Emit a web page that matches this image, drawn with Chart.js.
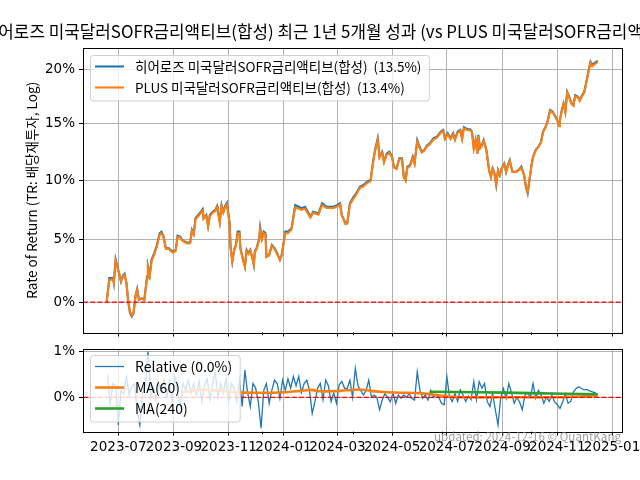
<!DOCTYPE html>
<html><head><meta charset="utf-8">
<script src="https://cdn.jsdelivr.net/npm/chart.js@4.4.1/dist/chart.umd.min.js"></script>
<style>
html,body{margin:0;padding:0;background:#fff;width:640px;height:480px;overflow:hidden}
canvas{position:absolute;left:0}
#c1{top:0}
#c2{top:340px}
</style></head><body>
<canvas id="c1" width="640" height="340"></canvas>
<canvas id="c2" width="640" height="140"></canvas>
<script>
// ---------------- DATA ----------------
const titleText = '히어로즈 미국달러SOFR금리액티브(합성) 최근 1년 5개월 성과 (vs PLUS 미국달러SOFR금리액티브(합성))';
const yTitle = 'Rate of Return (TR: 배당재투자, Log)';
const heroLabel = '히어로즈 미국달러SOFR금리액티브(합성)  (13.5%)';
const plusLabel = 'PLUS 미국달러SOFR금리액티브(합성)  (13.4%)';
const footerText = 'updated: 2024-12-16 © QuantKang';

const tickLabels = ['2023-07','2023-09','2023-11','2024-01','2024-03','2024-05','2024-07','2024-09','2024-11','2025-01'];
const minorTickDates = ['2023-12-08','2024-03-18','2024-06-26','2024-10-03'];
const topYTicks = [0, 5, 10, 15, 20];
const relYTicks = [0, 1];

const dates = ['2023-06-18','2023-06-21','2023-06-25','2023-06-26','2023-06-28','2023-07-01','2023-07-04','2023-07-06','2023-07-08','2023-07-10',
'2023-07-12','2023-07-14','2023-07-16','2023-07-18','2023-07-20','2023-07-22','2023-07-24','2023-07-27','2023-07-30','2023-08-02',
'2023-08-03','2023-08-05','2023-08-07','2023-08-10','2023-08-13','2023-08-16','2023-08-18','2023-08-20','2023-08-23','2023-08-26',
'2023-08-28','2023-08-31','2023-09-03','2023-09-05','2023-09-08','2023-09-10','2023-09-13','2023-09-16','2023-09-19','2023-09-21',
'2023-09-23','2023-09-25','2023-09-28','2023-10-01','2023-10-03','2023-10-04','2023-10-07','2023-10-09','2023-10-11','2023-10-14',
'2023-10-17','2023-10-19','2023-10-20','2023-10-22','2023-10-24','2023-10-26','2023-10-28','2023-10-30','2023-11-02','2023-11-03',
'2023-11-05','2023-11-07','2023-11-09','2023-11-11','2023-11-13','2023-11-14','2023-11-17','2023-11-19','2023-11-21','2023-11-23',
'2023-11-25','2023-11-27','2023-11-29','2023-11-30','2023-12-02','2023-12-05','2023-12-06','2023-12-08','2023-12-10','2023-12-12',
'2023-12-13','2023-12-16','2023-12-19','2023-12-22','2023-12-25','2023-12-28','2023-12-30','2024-01-03','2024-01-06','2024-01-10',
'2024-01-14','2024-01-18','2024-01-21','2024-01-25','2024-01-31','2024-02-03','2024-02-09','2024-02-13','2024-02-18','2024-02-22',
'2024-02-26','2024-03-01','2024-03-04','2024-03-06','2024-03-10','2024-03-12','2024-03-15','2024-03-19','2024-03-22','2024-03-26',
'2024-03-30','2024-04-03','2024-04-07','2024-04-10','2024-04-12','2024-04-15','2024-04-17','2024-04-20','2024-04-22','2024-04-25',
'2024-04-28','2024-05-01','2024-05-03','2024-05-06','2024-05-09','2024-05-12','2024-05-14','2024-05-16','2024-05-18','2024-05-21',
'2024-05-24','2024-05-26','2024-05-29','2024-05-31','2024-06-03','2024-06-06','2024-06-09','2024-06-12','2024-06-16','2024-06-20',
'2024-06-24','2024-06-27','2024-06-29','2024-07-02','2024-07-05','2024-07-08','2024-07-10','2024-07-13','2024-07-16','2024-07-18',
'2024-07-20','2024-07-24','2024-07-27','2024-07-29','2024-07-31','2024-08-02','2024-08-04','2024-08-05','2024-08-07','2024-08-09',
'2024-08-11','2024-08-14','2024-08-17','2024-08-19','2024-08-21','2024-08-23','2024-08-25','2024-08-27','2024-08-29','2024-08-31',
'2024-09-03','2024-09-05','2024-09-07','2024-09-09','2024-09-12','2024-09-16','2024-09-19','2024-09-22','2024-09-25','2024-09-27',
'2024-09-29','2024-10-01','2024-10-03','2024-10-05','2024-10-08','2024-10-11','2024-10-14','2024-10-16','2024-10-19','2024-10-21',
'2024-10-24','2024-10-27','2024-10-29','2024-11-01','2024-11-03','2024-11-04','2024-11-06','2024-11-08','2024-11-10','2024-11-12',
'2024-11-15','2024-11-17','2024-11-19','2024-11-21','2024-11-24','2024-11-26','2024-11-28','2024-12-01','2024-12-03','2024-12-06',
'2024-12-08','2024-12-10','2024-12-12','2024-12-16'];

const heroes = [0.00,1.90,1.90,1.50,3.42,2.56,1.62,2.08,2.24,1.50,
0.05,-0.86,-1.12,-0.86,0.44,1.05,0.18,0.31,0.18,2.02,
2.83,2.16,3.37,3.91,4.58,5.55,5.68,5.40,4.32,4.32,
4.18,4.04,4.18,5.35,5.26,5.00,4.86,4.77,4.77,5.82,
5.49,6.79,7.07,7.34,7.55,6.79,7.07,6.15,7.07,7.34,
7.49,7.82,7.34,6.51,7.91,7.34,7.82,8.10,6.38,4.45,
3.23,4.18,4.58,5.68,5.68,4.32,3.37,2.83,4.18,3.91,
4.18,3.63,2.96,4.04,4.32,5.14,6.04,5.14,5.68,5.55,
3.63,3.77,4.58,4.32,3.90,3.37,3.77,5.68,5.68,5.96,
7.91,7.76,7.63,7.76,6.93,7.34,7.21,8.05,7.76,7.76,
7.76,7.91,8.05,7.07,6.38,6.38,8.05,8.61,8.90,9.46,
9.61,9.89,10.04,11.77,12.68,13.69,12.07,12.50,11.63,12.36,
12.50,12.07,11.19,11.05,11.93,11.93,10.33,10.04,11.19,11.34,
12.07,11.51,13.54,13.09,12.50,12.68,13.09,13.25,13.69,13.84,
14.28,14.44,13.69,14.14,13.69,14.14,13.60,14.28,14.44,13.69,
14.69,14.51,14.51,14.28,12.83,13.54,12.36,13.99,12.83,13.09,
13.54,12.68,10.91,10.33,11.05,10.62,9.61,10.91,10.48,11.05,
11.48,10.76,11.34,11.77,10.76,10.76,10.91,11.19,10.48,9.46,
8.90,10.04,11.19,12.07,12.68,12.95,13.40,14.28,14.74,15.19,
16.24,16.08,15.78,15.34,14.80,15.34,16.24,16.84,16.08,17.91,
17.30,16.84,16.68,17.60,17.45,17.14,17.51,17.91,18.69,19.94,
20.72,20.41,20.57,20.81];

const plus = [0.00,1.75,1.80,1.55,3.30,2.50,1.65,2.00,2.15,1.55,
0.15,-0.75,-1.05,-0.80,0.40,0.95,0.20,0.25,0.20,1.90,
2.70,2.10,3.25,3.80,4.45,5.40,5.55,5.30,4.25,4.30,
4.10,3.95,4.10,5.25,5.20,4.95,4.80,4.70,4.72,5.70,
5.45,6.70,6.95,7.25,7.45,6.75,7.00,6.10,6.95,7.25,
7.40,7.72,7.30,6.45,7.80,7.28,7.72,7.95,6.30,4.40,
3.25,4.10,4.50,5.55,5.55,4.25,3.35,2.80,4.10,3.85,
4.10,3.60,2.95,3.95,4.22,5.00,5.85,5.05,5.55,5.45,
3.60,3.72,4.50,4.25,3.85,3.35,3.70,5.55,5.55,5.85,
7.70,7.60,7.50,7.60,6.85,7.25,7.10,7.90,7.65,7.65,
7.65,7.80,7.95,7.00,6.30,6.35,7.95,8.45,8.78,9.35,
9.50,9.78,9.95,11.60,12.55,13.55,12.00,12.40,11.58,12.25,
12.40,12.00,11.12,11.00,11.85,11.85,10.30,10.00,11.10,11.25,
11.95,11.45,13.40,12.98,12.42,12.60,13.00,13.15,13.58,13.75,
14.18,14.35,13.62,14.05,13.62,14.05,13.55,14.18,14.35,13.62,
14.58,14.42,14.42,14.20,12.78,13.45,12.32,13.90,12.80,13.02,
13.45,12.62,10.88,10.30,11.00,10.60,9.65,10.85,10.45,11.00,
11.42,10.72,11.28,11.70,10.74,10.74,10.88,11.10,10.45,9.50,
9.00,10.02,11.15,12.02,12.62,12.90,13.35,14.20,14.68,15.12,
16.16,16.02,15.72,15.30,14.78,15.30,16.18,16.76,16.02,17.82,
17.22,16.78,16.62,17.52,17.38,17.08,17.42,17.82,18.60,19.85,
20.62,20.30,20.46,20.68];

// Relative series: one reading every 3 calendar days from relStart
const relStart = '2023-06-19';
const relStepDays = 3;
const relative = [0.50,-0.15,0.30,0.25,-0.60,0.15,0.08,0.45,0.05,0.23,
0.30,-0.31,-0.60,0.10,0.23,0.99,0.00,0.23,-0.05,0.30,
0.10,0.37,0.00,0.35,-0.10,0.45,0.10,-0.20,0.30,0.15,
0.37,0.10,0.30,0.05,0.35,-0.10,0.25,0.40,-0.05,0.30,
0.55,0.00,0.30,0.10,0.40,-0.10,0.30,0.20,-0.10,0.37,
-0.20,0.59,0.10,-0.20,0.30,0.20,-0.10,-0.67,0.15,0.30,
-0.13,0.15,0.37,0.30,-0.02,0.37,0.15,0.40,0.20,0.45,
0.25,0.45,0.10,0.30,0.37,0.15,-0.35,-0.10,0.20,0.30,
-0.05,0.37,0.25,-0.09,0.09,-0.13,0.27,0.34,0.20,0.19,
0.37,0.00,0.63,0.25,0.15,0.05,0.15,0.37,0.00,0.05,
0.00,-0.27,-0.05,0.08,0.00,-0.10,0.10,-0.13,0.05,-0.02,
0.05,0.00,0.08,-0.02,-0.06,0.55,0.15,-0.02,0.05,-0.06,
0.15,0.00,0.05,0.00,-0.13,-0.16,0.45,0.00,-0.09,0.08,
-0.09,0.16,0.05,-0.09,0.03,-0.05,0.34,-0.05,0.34,0.20,
0.30,-0.09,-0.20,0.08,-0.27,-0.60,0.00,0.19,-0.02,0.30,
0.10,-0.13,0.00,-0.10,-0.27,0.05,0.10,0.00,0.30,-0.02,
0.15,0.05,-0.13,0.00,-0.09,0.05,-0.10,-0.16,-0.24,-0.10,
0.08,-0.13,-0.09,0.12,0.19,0.23,0.19,0.16,0.17,0.14,
0.12,0.10,0.05];

const ma60Dates = ['2023-09-11','2023-09-30','2023-10-19','2023-11-06','2023-11-25','2023-12-14','2024-01-01','2024-01-20','2024-01-31','2024-02-11',
'2024-02-22','2024-03-04','2024-03-18','2024-03-26','2024-04-07','2024-04-18','2024-04-26','2024-05-10','2024-06-01','2024-06-20',
'2024-07-08','2024-07-27','2024-08-29','2024-10-02','2024-10-24','2024-11-15','2024-12-02','2024-12-16'];
const ma60 = [0.11,0.16,0.15,0.11,0.10,0.10,0.11,0.14,0.16,0.13,
0.13,0.14,0.16,0.17,0.14,0.12,0.11,0.10,0.09,0.05,
0.01,0.00,0.00,0.00,0.00,0.01,0.02,0.04];

const ma240Dates = ['2024-06-12','2024-08-07','2024-10-02','2024-12-16'];
const ma240 = [0.12,0.11,0.09,0.065];

// ---------------- SETUP ----------------
const FONT = '"Noto Sans CJK KR", "Noto Sans", sans-serif';
const TICKFONT = '"DejaVu Sans", sans-serif';
Chart.defaults.font.family = FONT;
Chart.defaults.color = '#000';
const DAY = 86400000;
const ts = s => Date.parse(s);
const X_MIN = ts('2023-07-01') - 39.35 * DAY;
const X_MAX = ts('2025-01-01') + 11.1 * DAY;
const TOP_Y_MIN = -2.35, TOP_Y_MAX = 22.03;   // percent
const REL_Y_MIN = -0.745, REL_Y_MAX = 1.04;    // percent
const C_BLUE = '#1f77b4', C_ORANGE = '#ff7f0e', C_GREEN = '#2ca02c';

const gridOpts = { color: '#b0b0b0', lineWidth: 1, tickColor: '#000', tickLength: 4 };

function xAxis(showLabels, height) {
  return {
    type: 'linear', min: X_MIN, max: X_MAX,
    afterBuildTicks: s => { s.ticks = tickLabels.map(l => ({ value: ts(l + '-01') })); },
    afterFit: s => { s.height = height; s.paddingLeft = 0; s.paddingRight = 0; },
    ticks: { display: showLabels, autoSkip: false, maxRotation: 0, minRotation: 0, padding: 4,
             color: '#000', font: { family: TICKFONT, size: 13.5 }, callback: (v, i) => tickLabels[i] },
    grid: gridOpts, border: { display: false }
  };
}

function legendAndFrame(id) {
  return {
    id,
    afterDatasetsDraw(chart, args, o) {
      const { ctx, chartArea: a } = chart;
      const items = chart.data.datasets.filter(d => d.legendText);
      ctx.save();
      ctx.font = o.legendFont;
      const bx = Math.round(a.left + 7) + 0.5, by = Math.round(a.top + o.legendDY) + 0.5;
      const textX = bx + 44.5;
      const maxW = Math.max(...items.map(d => ctx.measureText(d.legendText).width));
      const bw = textX - bx + maxW + 8;
      const bh = 24.5 + (items.length - 1) * 21;
      ctx.beginPath(); ctx.roundRect(bx, by, bw, bh, 3);
      ctx.fillStyle = 'rgba(255,255,255,0.8)'; ctx.fill();
      ctx.strokeStyle = 'rgba(204,204,204,0.9)'; ctx.lineWidth = 1; ctx.stroke();
      items.forEach((d, k) => {
        const yy = by + 11 + 21 * k;
        ctx.beginPath(); ctx.moveTo(bx + 4.5, yy); ctx.lineTo(bx + 33.5, yy);
        ctx.strokeStyle = d.borderColor; ctx.lineWidth = d.borderWidth; ctx.stroke();
        ctx.fillStyle = '#000'; ctx.textBaseline = 'middle'; ctx.textAlign = 'left';
        ctx.fillText(d.legendText, textX, yy + 0.5);
      });
      ctx.restore();
    },
    afterDraw(chart, args, o) {
      const { ctx, chartArea: a, scales } = chart;
      ctx.save();
      ctx.strokeStyle = '#000'; ctx.lineWidth = 1;
      minorTickDates.forEach(d => {
        const px = Math.round(scales.x.getPixelForValue(ts(d))) + 0.5;
        ctx.beginPath(); ctx.moveTo(px, a.bottom); ctx.lineTo(px, a.bottom + 2.5); ctx.stroke();
      });
      const l = Math.round(a.left) + 0.5, t = Math.round(a.top) + 0.5;
      ctx.strokeRect(l, t, Math.round(a.right) - Math.round(a.left), Math.round(a.bottom) - Math.round(a.top));
      if (o.title) {
        ctx.font = o.titleFont; ctx.fillStyle = '#000';
        ctx.textAlign = 'center'; ctx.textBaseline = 'alphabetic';
        ctx.fillText(o.title, (a.left + a.right) / 2, o.titleY);
      }
      if (o.footer) {
        ctx.font = o.footerFont; ctx.fillStyle = 'rgba(128,128,128,0.75)';
        ctx.textAlign = 'right'; ctx.textBaseline = 'middle';
        ctx.fillText(o.footer, a.right - 1, o.footerY);
      }
      ctx.restore();
    }
  };
}

// ---------------- TOP CHART ----------------
new Chart(document.getElementById('c1'), {
  type: 'line',
  data: {
    datasets: [
      { data: [{ x: X_MIN, y: 1 }, { x: X_MAX, y: 1 }], borderColor: '#ff0000', borderWidth: 1.3,
        borderDash: [5, 2.2], pointRadius: 0, order: 0 },
      { legendText: heroLabel, data: dates.map((d, i) => ({ x: ts(d), y: 1 + heroes[i] / 100 })),
        borderColor: C_BLUE, borderWidth: 2.1, pointRadius: 0, tension: 0, order: 2 },
      { legendText: plusLabel, data: dates.map((d, i) => ({ x: ts(d), y: 1 + plus[i] / 100 })),
        borderColor: C_ORANGE, borderWidth: 2.1, pointRadius: 0, tension: 0, order: 1 }
    ]
  },
  options: {
    responsive: false, animation: false, devicePixelRatio: 1,
    layout: { padding: { top: 48, right: 18, bottom: 0, left: 0 } },
    plugins: {
      legend: { display: false }, tooltip: { enabled: false },
      deco1: { legendFont: '13.5px ' + FONT, legendDY: 7, title: titleText, titleFont: '16.9px ' + FONT, titleY: 38 }
    },
    scales: {
      x: xAxis(false, 7.5),
      y: {
        type: 'logarithmic', min: 1 + TOP_Y_MIN / 100, max: 1 + TOP_Y_MAX / 100,
        afterBuildTicks: s => { s.ticks = topYTicks.map(v => ({ value: 1 + v / 100 })); },
        afterFit: s => { s.width = 83; s.paddingTop = 0; s.paddingBottom = 0; },
        ticks: { color: '#000', font: { family: TICKFONT, size: 13.5 }, padding: 4,
                 callback: v => Math.round((v - 1) * 100) + '%' },
        grid: gridOpts, border: { display: false },
        title: { display: true, text: yTitle, color: '#000', font: { size: 13.5 }, padding: { top: 24, bottom: 0 } }
      }
    }
  },
  plugins: [legendAndFrame('deco1')]
});

// ---------------- BOTTOM CHART ----------------
new Chart(document.getElementById('c2'), {
  type: 'line',
  data: {
    datasets: [
      { data: [{ x: X_MIN, y: 0 }, { x: X_MAX, y: 0 }], borderColor: '#ff0000', borderWidth: 1.3,
        borderDash: [5, 2.2], pointRadius: 0, order: 0 },
      { legendText: 'Relative (0.0%)',
        data: relative.map((v, i) => ({ x: ts(relStart) + i * relStepDays * DAY, y: v })),
        borderColor: C_BLUE, borderWidth: 1.3, pointRadius: 0, tension: 0, order: 3 },
      { legendText: 'MA(60)', data: ma60Dates.map((d, i) => ({ x: ts(d), y: ma60[i] })),
        borderColor: C_ORANGE, borderWidth: 2.6, pointRadius: 0, tension: 0.3, order: 2 },
      { legendText: 'MA(240)', data: ma240Dates.map((d, i) => ({ x: ts(d), y: ma240[i] })),
        borderColor: C_GREEN, borderWidth: 2.6, pointRadius: 0, tension: 0.3, order: 1 }
    ]
  },
  options: {
    responsive: false, animation: false, devicePixelRatio: 1,
    layout: { padding: { top: 9.3, right: 18, bottom: 0, left: 0 } },
    plugins: {
      legend: { display: false }, tooltip: { enabled: false },
      deco2: { legendFont: '14px ' + FONT, legendDY: 5.7, footer: footerText, footerFont: '11.6px ' + FONT, footerY: 96.7 }
    },
    scales: {
      x: xAxis(true, 48.3),
      y: {
        type: 'linear', min: REL_Y_MIN, max: REL_Y_MAX,
        afterBuildTicks: s => { s.ticks = relYTicks.map(v => ({ value: v })); },
        afterFit: s => { s.width = 83; s.paddingTop = 0; s.paddingBottom = 0; },
        ticks: { color: '#000', font: { family: TICKFONT, size: 13.5 }, padding: 4, callback: v => v + '%' },
        grid: gridOpts, border: { display: false }
      }
    }
  },
  plugins: [legendAndFrame('deco2')]
});
</script>
</body></html>
